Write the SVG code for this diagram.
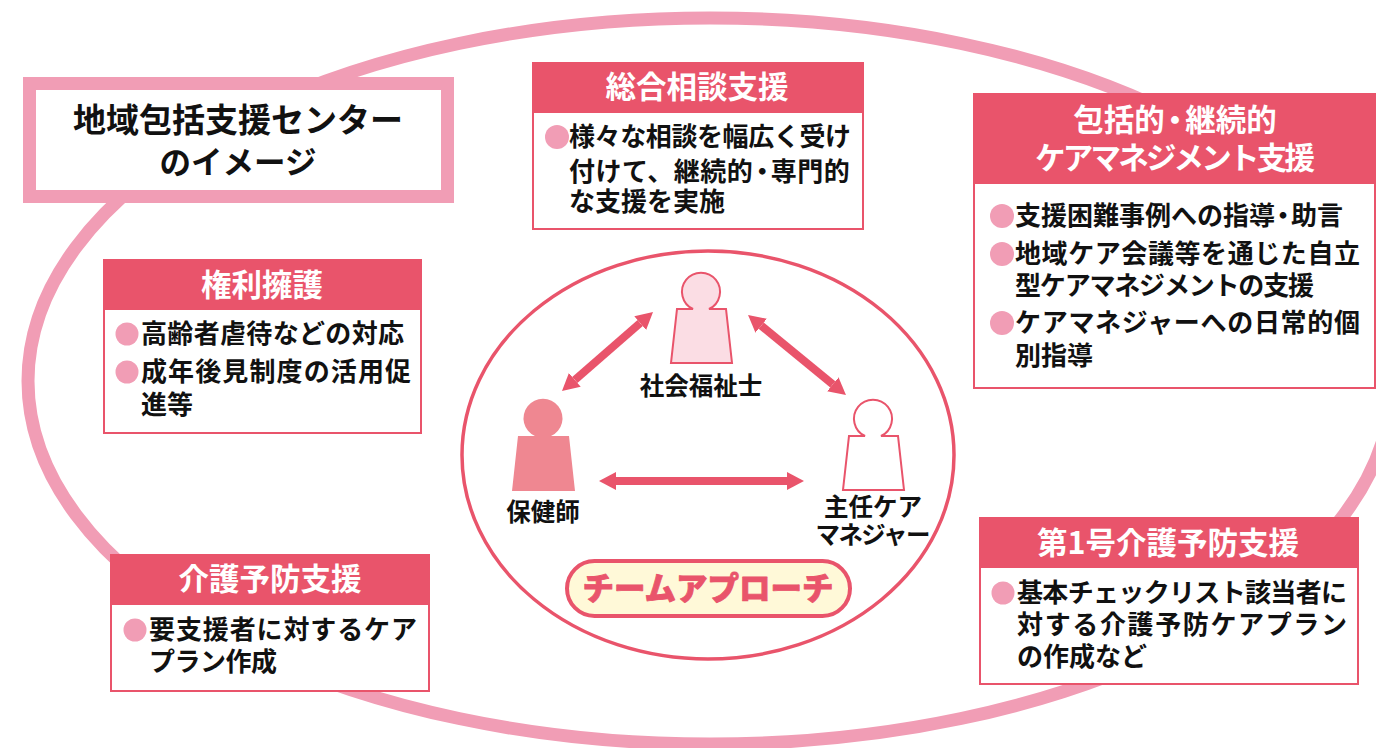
<svg xmlns="http://www.w3.org/2000/svg" width="1376" height="748" viewBox="0 0 1376 748">
<style>
text{font-family:"Noto Sans CJK JP","Noto Sans",sans-serif;font-weight:700}
.b{font-size:26px;fill:#111}
.h{font-size:30.500px;fill:#fff;text-anchor:middle}
.t{fill:#111;text-anchor:middle}
.l{font-size:24.500px;fill:#111;text-anchor:middle}
.box{fill:#fff;stroke:#e9546b;stroke-width:2}
.hd{fill:#e9546b}
.dot{fill:#f19db5}
.arrow{stroke:#e9546b;stroke-width:8;fill:none;marker-start:url(#ah);marker-end:url(#ah)}
</style>
<defs>
<marker id="ah" markerUnits="userSpaceOnUse" markerWidth="17" markerHeight="18" refX="0" refY="9" orient="auto-start-reverse"><path d="M0,0L17,9L0,18z" fill="#e9546b"/></marker>
</defs>
<rect width="1376" height="748" fill="#fff"/>
<ellipse id="outer-ellipse" cx="710" cy="381" rx="682" ry="363" fill="#fff" stroke="#f19db5" stroke-width="13"/>
<g id="title"><rect x="29.500" y="83.500" width="418" height="113" fill="#fff" stroke="#f19db5" stroke-width="13"/>
<text class="t" x="238" y="132" font-size="33">地域包括支援センター</text><text class="t" x="238" y="174" font-size="31.500">のイメージ</text></g>
<g id="sogo"><rect class="box" x="533" y="63" width="330" height="166"/><rect class="hd" x="532" y="62" width="332" height="51"/>
<text class="h" x="697" y="98">総合相談支援</text><circle class="dot" cx="557" cy="137" r="12"/>
<text class="b" x="569" y="146" textLength="282">様々な相談を幅広く受け</text><text class="b" x="569" y="181" letter-spacing="0.500">付けて、継続的<tspan dx="-4">・</tspan><tspan dx="-5">専門的</tspan></text><text class="b" x="569" y="211">な支援を実施</text></g>
<g id="houkatsu"><rect class="box" x="974" y="94" width="401" height="294"/><rect class="hd" x="973" y="93" width="403" height="91"/>
<text class="h" x="1175" y="131">包括的<tspan dx="-5">・</tspan><tspan dx="-5">継続的</tspan></text><text class="h" x="1175" y="169" textLength="280">ケアマネジメント支援</text>
<circle class="dot" cx="1002" cy="216" r="12"/><circle class="dot" cx="1002" cy="254" r="12"/><circle class="dot" cx="1002" cy="323" r="12"/>
<text class="b" x="1015" y="225">支援困難事例への指導<tspan dx="-5">・</tspan><tspan dx="-5">助言</tspan></text><text class="b" x="1015" y="263" textLength="345">地域ケア会議等を通じた自立</text><text class="b" x="1015" y="295" textLength="299">型ケアマネジメントの支援</text><text class="b" x="1015" y="332" textLength="345">ケアマネジャーへの日常的個</text><text class="b" x="1015" y="365">別指導</text></g>
<g id="kenri"><rect class="box" x="104" y="260" width="317" height="173"/><rect class="hd" x="103" y="259" width="319" height="51"/>
<text class="h" x="262" y="296">権利擁護</text><circle class="dot" cx="127" cy="334" r="11.500"/><circle class="dot" cx="127" cy="372" r="11.500"/>
<text class="b" x="141" y="343" textLength="263">高齢者虐待などの対応</text><text class="b" x="141" y="381" textLength="270">成年後見制度の活用促</text><text class="b" x="141" y="414">進等</text></g>
<g id="yobo"><rect class="box" x="111" y="555" width="318" height="136"/><rect class="hd" x="110" y="554" width="320" height="51"/>
<text class="h" x="270" y="590">介護予防支援</text><circle class="dot" cx="135" cy="630" r="11.500"/>
<text class="b" x="149" y="639" textLength="268">要支援者に対するケア</text><text class="b" x="149" y="671" textLength="128">プラン作成</text></g>
<g id="daiichi"><rect class="box" x="980" y="518" width="378" height="166"/><rect class="hd" x="979" y="517" width="380" height="51"/>
<text class="h" x="1168" y="554">第1号介護予防支援</text><circle class="dot" cx="1003" cy="593" r="11.500"/>
<text class="b" x="1017" y="602" textLength="330">基本チェックリスト該当者に</text><text class="b" x="1017" y="634" textLength="330">対する介護予防ケアプラン</text><text class="b" x="1017" y="666">の作成など</text></g>
<ellipse id="team" cx="708" cy="455" rx="246" ry="204" fill="#fff" stroke="#e9546b" stroke-width="3.500"/>
<g id="shakai"><path d="M693,309A19,19 0 1 1 709,309L726,309L732,363L671,363L677,309Z" fill="#fbdde4" stroke="#e9546b" stroke-width="2"/><text class="l" x="701" y="395">社会福祉士</text></g>
<g id="hoken"><path d="M535,436A19.500,19.500 0 1 1 551,436L569,436L575,491L512,491L518,436Z" fill="#ef8791"/><text class="l" x="543" y="521">保健師</text></g>
<g id="care"><path d="M865,436A19,19 0 1 1 881,436L898,436L904,490L843,490L849,436Z" fill="#fff" stroke="#e9546b" stroke-width="2"/><text class="l" x="873" y="516">主任ケア</text><text class="l" x="873" y="544" textLength="115">マネジャー</text></g>
<g id="connectors">
<line class="arrow" x1="640.200" y1="323.100" x2="574.800" y2="379.900"/>
<line class="arrow" x1="761.200" y1="325.700" x2="832.800" y2="384.300"/>
<line class="arrow" x1="616" y1="481" x2="787" y2="481"/>
</g>
<g id="approach"><rect x="567" y="561" width="283" height="55" rx="27.500" fill="#fff9d8" stroke="#e9546b" stroke-width="4"/><text x="708" y="600" text-anchor="middle" font-size="31.500" fill="#e9546b" stroke="#e9546b" stroke-width="0.800" stroke-linejoin="round" style="font-weight:900">チームアプローチ</text></g>
</svg>
